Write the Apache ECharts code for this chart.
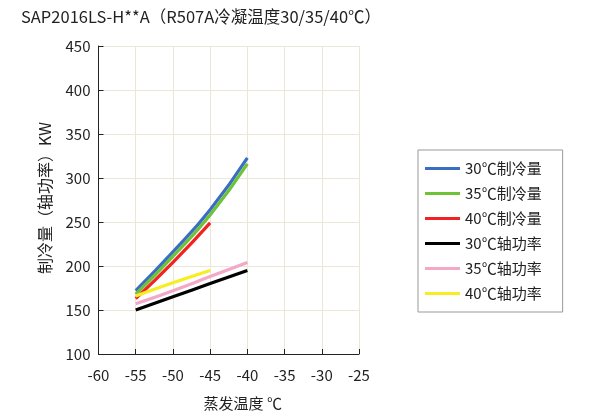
<!DOCTYPE html>
<html><head><meta charset="utf-8">
<script src="https://cdn.jsdelivr.net/npm/echarts@6/dist/echarts.min.js"></script>
<style>html,body{margin:0;padding:0;background:#fff}#c{width:598px;height:416px}</style>
</head><body><div id="c"></div>
<script>
const titleText = 'SAP2016LS-H**A（R507A冷凝温度30/35/40℃）';
const xName = '蒸发温度 ℃';
const yName = '制冷量（轴功率）KW';
const xTicks = [-60, -55, -50, -45, -40, -35, -30, -25];
const evapTemp = [-55, -50, -45, -40];
const cap30 = [172, 216, 264, 323];
const cap35 = [168, 211, 258, 316];
const cap40 = [163, 204, 249];
const pow30 = [150, 165, 180, 195];
const pow35 = [157, 172, 188, 204];
const pow40 = [166, 181, 195];
const seriesNames = ['30℃制冷量','35℃制冷量','40℃制冷量','30℃轴功率','35℃轴功率','40℃轴功率'];
const seriesData = [cap30, cap35, cap40, pow30, pow35, pow40];
const colors = ['#3a6ec3','#6ec236','#f22222','#000000','#f3a8c8','#f6ee22'];

const font = "'Noto Sans CJK SC','Noto Sans',sans-serif";
const chart = echarts.init(document.getElementById('c'), null, {renderer:'canvas'});
chart.setOption({
  animation:false,
  backgroundColor:'#fff',
  title:{text:titleText,left:16,top:3,textStyle:{fontSize:16.5,fontWeight:'normal',color:'#222',fontFamily:font}},
  legend:{
    orient:'vertical', left:418, top:150,
    data:seriesNames, icon:'rect', itemWidth:35, itemHeight:3, itemGap:8,
    borderColor:'#999', borderWidth:1, padding:[10,21,10,7],
    textStyle:{fontSize:15,color:'#222',fontFamily:font,lineHeight:17}
  },
  grid:{left:98.5,right:239,top:46,bottom:62,containLabel:false,outerBoundsMode:'none'},
  xAxis:{
    type:'value', min:-60, max:-25, interval:5,
    name:xName, nameLocation:'middle', nameGap:42,
    nameTextStyle:{fontSize:15,color:'#222',fontFamily:font,padding:[0,0,0,28]},
    axisLine:{onZero:false,lineStyle:{color:'#222',width:1}},
    axisTick:{inside:true,length:5,lineStyle:{color:'#222'}},
    axisLabel:{fontSize:15,color:'#222',fontFamily:font,margin:14,formatter:v=>String(v)},
    splitLine:{show:true,lineStyle:{color:'#ebe7d8',width:1}}
  },
  yAxis:{
    type:'value', min:100, max:450, interval:50,
    name:yName, nameLocation:'middle', nameGap:46, nameRotate:90,
    nameTextStyle:{fontSize:16,color:'#222',fontFamily:font,padding:[0,0,0,4]},
    axisLine:{show:true,lineStyle:{color:'#222',width:1}},
    axisTick:{show:true,inside:true,length:5,lineStyle:{color:'#222'}},
    axisLabel:{fontSize:15,color:'#222',fontFamily:font,margin:8},
    splitLine:{show:true,lineStyle:{color:'#ebe7d8',width:1}}
  },
  series: seriesNames.map((n,i)=>({
    name:n, type:'line', smooth:true, showSymbol:false, symbol:'none',
    data: seriesData[i].map((v,j)=>[evapTemp[j], v]),
    lineStyle:{color:colors[i],width:3.2}, itemStyle:{color:colors[i]}
  }))
});
</script></body></html>
